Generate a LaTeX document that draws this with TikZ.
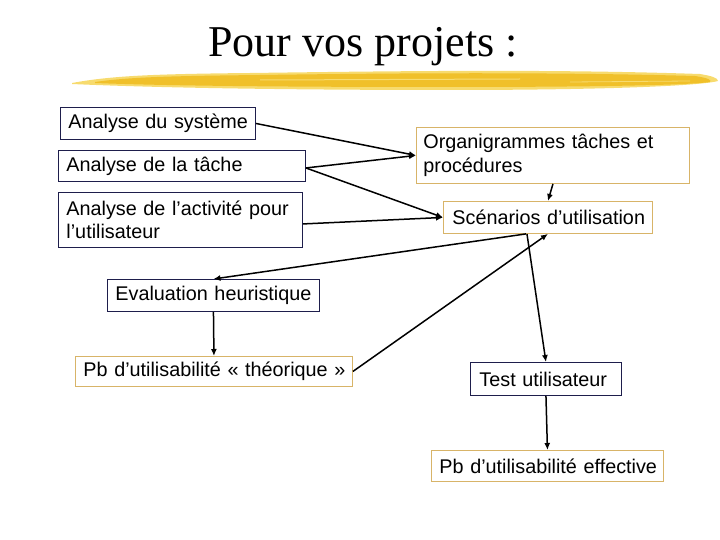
\documentclass[tikz,border=0pt]{standalone}
\usepackage{fontspec}
\setmainfont{Liberation Sans}
\newfontfamily\titlefont{Liberation Serif}
\usepackage{tikz}
\usetikzlibrary{
    arrows.meta,
    calc
}

\definecolor{navy}{HTML}{1E1E4C}
\definecolor{tan}{HTML}{D8B468}
\definecolor{brushlight}{HTML}{F7DB6E}
\definecolor{brushdark}{HTML}{F0C02A}

\begin{document}
\begin{tikzpicture}[x=1pt,y=-1pt,
    box/.style={draw, line width=0.9pt, anchor=north west, align=left,
        inner xsep=6pt, inner ysep=0pt, fill=white,
        font=\fontsize{19.8}{23.5}\selectfont},
    bluebox/.style={box, draw=navy},
    tanbox/.style={box, draw=tan},
    link/.style={line width=1.5pt, -{Latex[length=7pt,width=6pt]}}
]

\useasboundingbox (0,0) rectangle (720,540);

% Title and brush stroke
\node[anchor=base, font=\titlefont\fontsize{44}{50}\selectfont] (title) at (363,57) {Pour vos projets :};
\fill[brushlight] (72,83) .. controls (110,76) and (150,74) .. (250,73)
    .. controls (400,71) and (550,69) .. (700,74)
    .. controls (712,76) and (718,78) .. (718,81)
    .. controls (700,86) and (600,90) .. (450,90)
    .. controls (300,90) and (160,88) .. (72,84) -- cycle;
\fill[brushdark] (95,82) .. controls (130,77) and (170,76) .. (260,75)
    .. controls (400,73) and (550,72) .. (695,76)
    .. controls (708,78) and (712,80) .. (710,82)
    .. controls (690,85) and (600,87) .. (450,87)
    .. controls (300,87) and (170,86) .. (95,83) -- cycle;
\draw[brushlight, line width=1pt] (260,80) -- (520,79);
\draw[brushlight, line width=0.8pt] (570,82) -- (690,81);

% Boxes on the left
\node[bluebox, text width=183pt, minimum height=32pt] (sys) at (60,107) {\hspace{2pt}Analyse du système};
\node[bluebox, text width=235pt, minimum height=31pt] (task) at (58,150) {\hspace{2pt}Analyse de la tâche};
\node[bluebox, text width=232pt, minimum height=55pt] (act) at (58,192) {\hspace{2pt}Analyse de l’activité pour\\\hspace{2pt}l’utilisateur};
\node[bluebox, text width=200pt, minimum height=32pt] (eval) at (107,279) {\hspace{2pt}Evaluation heuristique};
\node[tanbox, text width=265pt, minimum height=30pt] (theo) at (75,356) {\hspace{2pt}Pb d’utilisabilité «~théorique~»};

% Boxes on the right
\node[tanbox, text width=261pt, minimum height=56pt] (org) at (416,127) {\hspace{1pt}Organigrammes tâches et\\\hspace{1pt}procédures};
\node[tanbox, text width=197pt, minimum height=32pt] (scen) at (443,201) {\hspace{3pt}Scénarios d’utilisation};
\node[bluebox, text width=139pt, minimum height=33pt] (test) at (470,362) {\hspace{3pt}Test utilisateur};
\node[tanbox, text width=220pt, minimum height=31pt] (eff) at (431,450) {\hspace{2pt}Pb d’utilisabilité effective};

% Arrows
\draw[link] (sys.east) -- (org.west);
\draw[link] ([yshift=-2pt]task.east) -- (org.west);
\draw[link] ([yshift=-2pt]task.east) -- (scen.west);
\draw[link] ([yshift=-4pt]act.east) -- (scen.west);
\draw[link] (org.south) -- (scen.north);
\draw[link] ([xshift=-22pt]scen.south) -- (eval.north);
\draw[link] ([xshift=-21pt]scen.south) -- (test.north);
\draw[link] (theo.east) -- (scen.south);
\draw[link] (eval.south) -- (theo.north);
\draw[link] (test.south) -- (eff.north);

\end{tikzpicture}
\end{document}
